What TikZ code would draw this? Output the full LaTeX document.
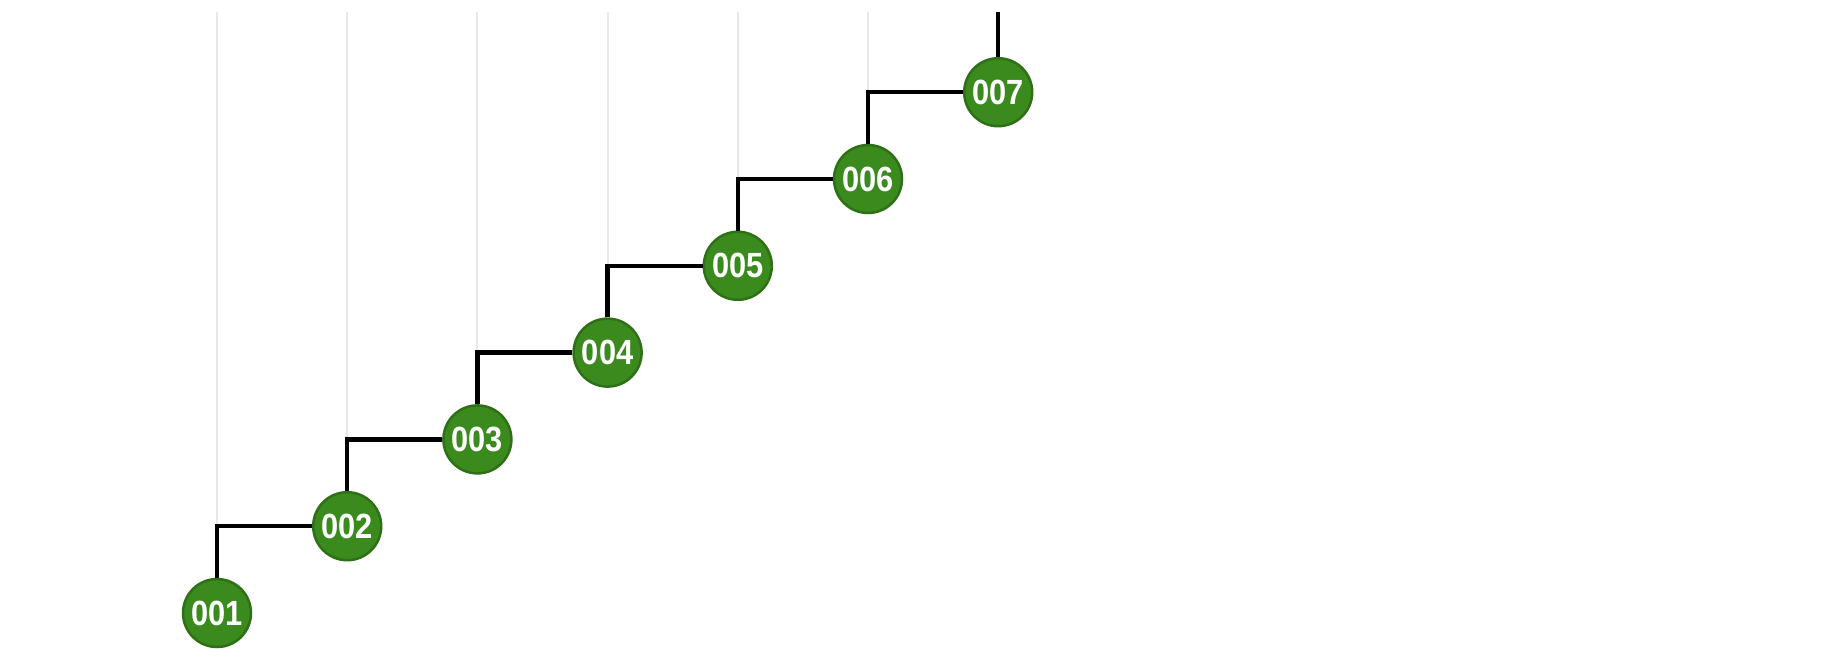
\documentclass[tikz,border=0pt]{standalone}
\usepackage{fontspec}
\setmainfont{Liberation Sans}
\definecolor{gbub}{HTML}{3A8A1E}
\definecolor{gbrd}{HTML}{2E7016}
\newcommand{\bubtext}[1]{\scalebox{0.88}[1]{\fontsize{35}{35}\selectfont\bfseries #1}}
\begin{document}
\begin{tikzpicture}[x=1pt,y=-1pt,
  bubble/.style={circle,fill=gbub,draw=gbrd,line width=2.5pt,
    minimum size=68pt,inner sep=0pt,text=white},
  link/.style={line width=4.5pt,black},
  guide/.style={line width=2pt,black!9}]
\useasboundingbox (0,0) rectangle (1844,656);
\fill[white] (0,0) rectangle (1844,656);
\foreach \i in {1,...,7}{
  \pgfmathsetmacro{\xx}{217+(\i-1)*130.2}
  \pgfmathsetmacro{\yy}{613-(\i-1)*86.8}
  \coordinate (c\i) at (\xx,\yy);
  \coordinate (top\i) at (\xx,12);
}
\foreach \i in {1,...,6}{
  \pgfmathtruncatemacro{\j}{\i+1}
  \coordinate (e\i) at (c\i |- c\j);
  \draw[guide] (top\i) -- (e\i);
}
\foreach \i/\t in {1/001,2/002,3/003,4/004,5/005,6/006,7/007}{
  \node[bubble] (n\i) at (c\i) {\bubtext{\t}};
}
\foreach \i in {1,...,6}{
  \pgfmathtruncatemacro{\j}{\i+1}
  \draw[link] (n\i.north) -- (e\i) -- (n\j.west);
}
\draw[link] (n7.north) -- (top7);
\end{tikzpicture}
\end{document}
